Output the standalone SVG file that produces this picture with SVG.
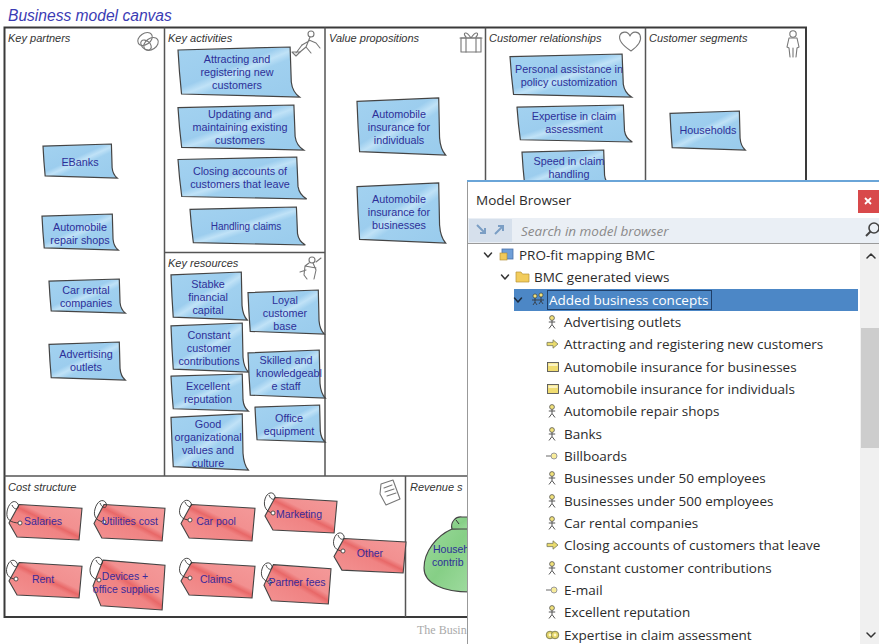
<svg xmlns="http://www.w3.org/2000/svg" xmlns:xlink="http://www.w3.org/1999/xlink" width="879" height="644" viewBox="0 0 879 644">
  <style>
    .title { font: italic 15.6px "Liberation Sans", Arial, sans-serif; fill: #3b3bb4; }
    .sec { font: italic 11px "Liberation Sans", Arial, sans-serif; fill: #333; }
    .nt { font: 10.8px "Liberation Sans", Arial, sans-serif; fill: #2d2f98; text-anchor: middle; }
    .tg { font: 10.5px "Liberation Sans", Arial, sans-serif; fill: #3a2a9a; text-anchor: middle; }
    .grid { stroke: #555; stroke-width: 1.5; fill: none; }
    .ico { stroke: #777; stroke-width: 1.1; fill: none; stroke-linecap: round; stroke-linejoin: round; }
    .note { fill: url(#noteFill); stroke: #444; stroke-width: 1.2; }
    .tag { fill: url(#tagFill); stroke: #444; stroke-width: 1.1; }
    .str { fill: none; stroke: #333; stroke-width: 0.9; }
    .mb { font: 13.5px "Open Sans", "Noto Sans", sans-serif; fill: #2b2b2b; }
    .mbsel { font: 13.5px "Open Sans", "Noto Sans", sans-serif; fill: #ffffff; }
    .chev { fill: none; stroke: #333; stroke-width: 1.5; stroke-linecap: round; stroke-linejoin: round; }
  </style>
  <defs>
    <linearGradient id="noteFill" x1="0" y1="0" x2="1" y2="1">
      <stop offset="0" stop-color="#a3d2f0"/>
      <stop offset="0.42" stop-color="#9ccdee"/>
      <stop offset="0.5" stop-color="#c0e2f7"/>
      <stop offset="0.58" stop-color="#a0d0ef"/>
      <stop offset="1" stop-color="#99cbec"/>
    </linearGradient>
    <linearGradient id="tagFill" x1="0" y1="1" x2="1" y2="0">
      <stop offset="0" stop-color="#f39393"/>
      <stop offset="0.45" stop-color="#f08383"/>
      <stop offset="0.52" stop-color="#e86868"/>
      <stop offset="0.6" stop-color="#f29090"/>
      <stop offset="1" stop-color="#f49a9a"/>
    </linearGradient>
    <linearGradient id="bagFill" x1="0" y1="0" x2="1" y2="1">
      <stop offset="0" stop-color="#9bd99b"/>
      <stop offset="0.5" stop-color="#86cf86"/>
      <stop offset="1" stop-color="#9fdb9f"/>
    </linearGradient>
    <!-- sticky note outline in a 100x50 box, curled bottom-right corner -->
    <path id="noteShape" vector-effect="non-scaling-stroke" d="M0,3 L95,0 L96,35 Q97,45 103,50 L3,47 Q1,25 0,3 Z"/>
    <!-- price tag outline in a 100x50 box, point on the left -->
    <path id="tagShape" vector-effect="non-scaling-stroke" d="M14,2 L100,7 L96,50 L11,46 L0,27 Z"/>
    <!-- tree icons -->
    <g id="icActor">
      <circle cx="0" cy="-4" r="2.4" fill="#f2e27a" stroke="#555" stroke-width="0.8"/>
      <path d="M0,-1.6 V2.5 M-3.2,0 H3.2 M0,2.5 L-3,6.5 M0,2.5 L3,6.5" fill="none" stroke="#555" stroke-width="1"/>
    </g>
    <path id="icArrow" d="M-5,-1.6 H1 V-4.2 L6,0 L1,4.2 V1.6 H-5 Z" fill="#eadb6c" stroke="#7a7a5a" stroke-width="0.8"/>
    <g id="icValue">
      <rect x="-5.5" y="-4.5" width="11" height="9" fill="#f0dc70" stroke="#555" stroke-width="0.9"/>
      <rect x="-4.5" y="-3.5" width="9" height="2.5" fill="#fbf3c2"/>
    </g>
    <g id="icChannel">
      <path d="M-6,0 H-1" stroke="#777" stroke-width="1.1"/>
      <circle cx="2" cy="0" r="3" fill="#f8ec9a" stroke="#999" stroke-width="1"/>
    </g>
    <g id="icRings">
      <circle cx="-2" cy="0" r="3.8" fill="#e3d468" stroke="#7a7a50" stroke-width="0.9"/>
      <circle cx="3" cy="0" r="3.8" fill="#e3d468" stroke="#7a7a50" stroke-width="0.9"/>
      <circle cx="-2" cy="0" r="1.4" fill="#fff8c8"/>
      <circle cx="3" cy="0" r="1.4" fill="#fff8c8"/>
    </g>
  </defs>

  <!-- heading -->
  <text class="title" x="8" y="21">Business model canvas</text>

  <!-- canvas frame and section dividers -->
  <g id="canvas-grid">
    <rect x="4.5" y="27.5" width="801.5" height="589.5" fill="#fff" stroke="#3a3a3a" stroke-width="2"/>
    <path class="grid" d="M164.5,27.5 V476 M325,27.5 V476 M485.5,27.5 V476 M645.5,27.5 V476 M164.5,252.5 H325 M4.5,476 H806 M405.5,476 V617"/>
  </g>

  <!-- section titles and icons -->
  <g id="sec-key-partners">
    <text class="sec" x="8" y="42">Key partners</text>
    <g class="ico">
      <ellipse cx="145" cy="39" rx="8" ry="5.5" transform="rotate(-35 145 39)"/>
      <ellipse cx="151" cy="44" rx="8" ry="5.5" transform="rotate(-35 151 44)"/>
      <ellipse cx="146" cy="45" rx="6" ry="4" transform="rotate(40 146 45)"/>
    </g>
  </g>
  <g id="sec-key-activities">
    <text class="sec" x="168" y="42">Key activities</text>
    <g class="ico">
      <circle cx="311" cy="34" r="3"/>
      <path d="M310,37 L306,47 L311,53 M306,47 L300,52 M309,40 L316,43 L320,48 M309,41 L302,45"/>
      <path d="M302,45 L296,53 M292,52 L296,56 L300,52 Z"/>
    </g>
  </g>
  <g id="sec-value-propositions">
    <text class="sec" x="329" y="42">Value propositions</text>
    <g class="ico">
      <rect x="461" y="38" width="20" height="14"/>
      <path d="M460,38 H482 M466,38 V52 M476,38 V52 M471,38 C466,30 462,33 466,37 M471,38 C476,30 480,33 476,37"/>
    </g>
  </g>
  <g id="sec-customer-relationships">
    <text class="sec" x="489" y="42">Customer relationships</text>
    <path class="ico" d="M631,51 C622,45 618,40 620,35 C622,31 628,31 630,36 C632,31 638,31 640,35 C642,40 638,46 631,51 Z"/>
  </g>
  <g id="sec-customer-segments">
    <text class="sec" x="649" y="42">Customer segments</text>
    <g class="ico">
      <circle cx="793" cy="34" r="3.2"/>
      <path d="M789,38 H797 L799,47 L797,48 L796,57 M789,38 L787,47 L789,48 L790,57 M793,48 V57"/>
    </g>
  </g>
  <g id="sec-key-resources">
    <text class="sec" x="168" y="267">Key resources</text>
    <g class="ico">
      <circle cx="312" cy="260" r="3"/>
      <path d="M309,263 L305,266 L304,275 L307,279 M313,263 L316,270 L314,279 M305,266 L316,268 M316,262 L321,258 M300,272 L306,270"/>
    </g>
  </g>
  <g id="sec-cost-structure">
    <text class="sec" x="8" y="491">Cost structure</text>
    <g class="ico">
      <path d="M381,484 L393,480 L400,499 L386,505 L380,494 Z"/>
      <path d="M384,488 L392,485 M385,492 L394,489 M387,496 L396,493"/>
    </g>
  </g>
  <g id="sec-revenue-streams">
    <text class="sec" x="410" y="491">Revenue s</text>
  </g>

  <!-- key partners notes -->
  <g id="kp-ebanks">
    <use href="#noteShape" class="note" transform="translate(43 144) scale(0.72 0.68)"/>
    <text class="nt" x="80" y="166">EBanks</text>
  </g>
  <g id="kp-repair-shops">
    <use href="#noteShape" class="note" transform="translate(42 214) scale(0.74 0.72)"/>
    <text class="nt" x="80" y="231">Automobile</text>
    <text class="nt" x="80" y="244">repair shops</text>
  </g>
  <g id="kp-car-rental">
    <use href="#noteShape" class="note" transform="translate(49 279) scale(0.74 0.68)"/>
    <text class="nt" x="86" y="294">Car rental</text>
    <text class="nt" x="86" y="307">companies</text>
  </g>
  <g id="kp-advertising">
    <use href="#noteShape" class="note" transform="translate(49 342) scale(0.74 0.76)"/>
    <text class="nt" x="86" y="358">Advertising</text>
    <text class="nt" x="86" y="371">outlets</text>
  </g>

  <!-- key activities notes -->
  <g id="ka-attracting">
    <use href="#noteShape" class="note" transform="translate(178 47) scale(1.18 1.0)"/>
    <text class="nt" x="237" y="63">Attracting and</text>
    <text class="nt" x="237" y="76">registering new</text>
    <text class="nt" x="237" y="89">customers</text>
  </g>
  <g id="ka-updating">
    <use href="#noteShape" class="note" transform="translate(178 105) scale(1.22 0.9)"/>
    <text class="nt" x="240" y="118">Updating and</text>
    <text class="nt" x="240" y="131">maintaining existing</text>
    <text class="nt" x="240" y="144">customers</text>
  </g>
  <g id="ka-closing">
    <use href="#noteShape" class="note" transform="translate(178 157) scale(1.25 0.84)"/>
    <text class="nt" x="240" y="175">Closing accounts of</text>
    <text class="nt" x="240" y="188">customers that leave</text>
  </g>
  <g id="ka-handling">
    <use href="#noteShape" class="note" transform="translate(190 207) scale(1.12 0.76)"/>
    <text class="nt" x="246" y="230" style="font-size:10px">Handling claims</text>
  </g>

  <!-- key resources notes -->
  <g id="kr-stabke">
    <use href="#noteShape" class="note" transform="translate(171 272) scale(0.74 0.96)"/>
    <text class="nt" x="208" y="288">Stabke</text>
    <text class="nt" x="208" y="301">financial</text>
    <text class="nt" x="208" y="314">capital</text>
  </g>
  <g id="kr-loyal">
    <use href="#noteShape" class="note" transform="translate(248 290) scale(0.74 0.88)"/>
    <text class="nt" x="285" y="304">Loyal</text>
    <text class="nt" x="285" y="317">customer</text>
    <text class="nt" x="285" y="330">base</text>
  </g>
  <g id="kr-constant">
    <use href="#noteShape" class="note" transform="translate(171 323) scale(0.75 0.98)"/>
    <text class="nt" x="209" y="339">Constant</text>
    <text class="nt" x="209" y="352">customer</text>
    <text class="nt" x="209" y="365">contributions</text>
  </g>
  <g id="kr-skilled">
    <use href="#noteShape" class="note" transform="translate(248 350) scale(0.75 0.96)"/>
    <text class="nt" x="286" y="364">Skilled and</text>
    <text class="nt" x="289" y="377">knowledgeabl</text>
    <text class="nt" x="286" y="390">e staff</text>
  </g>
  <g id="kr-excellent">
    <use href="#noteShape" class="note" transform="translate(171 374) scale(0.75 0.74)"/>
    <text class="nt" x="208" y="390">Excellent</text>
    <text class="nt" x="208" y="403">reputation</text>
  </g>
  <g id="kr-good">
    <use href="#noteShape" class="note" transform="translate(171 414) scale(0.75 1.12)"/>
    <text class="nt" x="208" y="428">Good</text>
    <text class="nt" x="208" y="441">organizational</text>
    <text class="nt" x="208" y="454">values and</text>
    <text class="nt" x="208" y="467">culture</text>
  </g>
  <g id="kr-office">
    <use href="#noteShape" class="note" transform="translate(255 405) scale(0.68 0.74)"/>
    <text class="nt" x="289" y="422">Office</text>
    <text class="nt" x="289" y="435">equipment</text>
  </g>

  <!-- value proposition notes -->
  <g id="vp-individuals">
    <use href="#noteShape" class="note" transform="translate(357 98) scale(0.86 1.14)"/>
    <text class="nt" x="399" y="118">Automobile</text>
    <text class="nt" x="399" y="131">insurance for</text>
    <text class="nt" x="399" y="144">individuals</text>
  </g>
  <g id="vp-businesses">
    <use href="#noteShape" class="note" transform="translate(357 183) scale(0.86 1.2)"/>
    <text class="nt" x="399" y="203">Automobile</text>
    <text class="nt" x="399" y="216">insurance for</text>
    <text class="nt" x="399" y="229">businesses</text>
  </g>

  <!-- customer relationship notes -->
  <g id="cr-personal">
    <use href="#noteShape" class="note" transform="translate(510 54) scale(1.18 0.86)"/>
    <text class="nt" x="569" y="73">Personal assistance in</text>
    <text class="nt" x="569" y="86">policy customization</text>
  </g>
  <g id="cr-expertise">
    <use href="#noteShape" class="note" transform="translate(517 105) scale(1.12 0.74)"/>
    <text class="nt" x="574" y="120">Expertise in claim</text>
    <text class="nt" x="574" y="133">assessment</text>
  </g>
  <g id="cr-speed">
    <use href="#noteShape" class="note" transform="translate(522 150) scale(0.86 0.72)"/>
    <text class="nt" x="569" y="165">Speed in claim</text>
    <text class="nt" x="569" y="178">handling</text>
  </g>

  <!-- customer segment note -->
  <g id="cs-households">
    <use href="#noteShape" class="note" transform="translate(670 111) scale(0.73 0.78)"/>
    <text class="nt" x="708" y="134">Households</text>
  </g>

  <!-- cost structure tags -->
  <g id="cost-salaries">
    <use href="#tagShape" class="tag" transform="translate(9 503) scale(0.73 0.74)"/>
    <path class="str" d="M20,523 C10,523 6,519 7,512 C8,504 14,498 18,504 C20,508 15,512 12,505"/>
    <circle cx="20" cy="523" r="2" fill="#fff" stroke="#333" stroke-width="0.8"/>
    <text class="tg" x="43" y="525">Salaries</text>
  </g>
  <g id="cost-utilities">
    <use href="#tagShape" class="tag" transform="translate(94 503) scale(0.71 0.76)"/>
    <path class="str" d="M104,522 C96,521 93,516 95,509 C97,501 103,498 106,503 C108,508 103,510 100,503"/>
    <circle cx="104" cy="522" r="2" fill="#fff" stroke="#333" stroke-width="0.8"/>
    <text class="tg" x="130" y="525">Utilities cost</text>
  </g>
  <g id="cost-car-pool">
    <use href="#tagShape" class="tag" transform="translate(181 503) scale(0.74 0.76)"/>
    <path class="str" d="M190,520 C182,520 178,515 180,508 C182,500 188,498 191,503 C193,507 188,509 185,502"/>
    <circle cx="190" cy="520" r="2" fill="#fff" stroke="#333" stroke-width="0.8"/>
    <text class="tg" x="216" y="525">Car pool</text>
  </g>
  <g id="cost-marketing">
    <use href="#tagShape" class="tag" transform="translate(265 496) scale(0.72 0.74)"/>
    <path class="str" d="M273,513 C266,512 263,506 265,499 C267,492 273,491 275,496 C276,500 271,501 269,495"/>
    <circle cx="273" cy="513" r="2" fill="#fff" stroke="#333" stroke-width="0.8"/>
    <text class="tg" x="299" y="518">Marketing</text>
  </g>
  <g id="cost-other">
    <use href="#tagShape" class="tag" transform="translate(334 537) scale(0.72 0.72)"/>
    <path class="str" d="M343,551 C336,551 332,546 334,539 C336,532 342,531 344,536 C345,540 340,541 338,535"/>
    <circle cx="343" cy="551" r="2" fill="#fff" stroke="#333" stroke-width="0.8"/>
    <text class="tg" x="370" y="557">Other</text>
  </g>
  <g id="cost-rent">
    <use href="#tagShape" class="tag" transform="translate(9 561) scale(0.73 0.74)"/>
    <path class="str" d="M16,579 C9,579 5,574 7,567 C9,560 14,558 17,563 C19,567 14,569 11,562"/>
    <circle cx="16" cy="579" r="2" fill="#fff" stroke="#333" stroke-width="0.8"/>
    <text class="tg" x="43" y="583">Rent</text>
  </g>
  <g id="cost-devices">
    <use href="#tagShape" class="tag" transform="translate(93 558) scale(0.72 1.04)"/>
    <path class="str" d="M99,580 C92,579 88,573 91,565 C93,557 99,555 102,560 C104,565 99,567 96,560"/>
    <circle cx="99" cy="580" r="2" fill="#fff" stroke="#333" stroke-width="0.8"/>
    <text class="tg" x="125" y="580">Devices +</text>
    <text class="tg" x="126" y="593">office supplies</text>
  </g>
  <g id="cost-claims">
    <use href="#tagShape" class="tag" transform="translate(181 561) scale(0.74 0.74)"/>
    <path class="str" d="M190,578 C182,578 178,573 180,566 C182,558 188,556 191,561 C193,565 188,567 185,560"/>
    <circle cx="190" cy="578" r="2" fill="#fff" stroke="#333" stroke-width="0.8"/>
    <text class="tg" x="216" y="583">Claims</text>
  </g>
  <g id="cost-partner-fees">
    <use href="#tagShape" class="tag" transform="translate(264 563) scale(0.67 0.82)"/>
    <path class="str" d="M270,582 C263,581 260,576 262,569 C264,562 270,561 272,566 C273,570 268,571 266,565"/>
    <circle cx="270" cy="582" r="2" fill="#fff" stroke="#333" stroke-width="0.8"/>
    <text class="tg" x="297" y="586">Partner fees</text>
  </g>

  <!-- revenue stream bag -->
  <g id="rev-households">
    <path d="M452,529 C436,536 424,552 424,568 C424,584 444,592 470,592 L470,528 Z" fill="url(#bagFill)" stroke="#444" stroke-width="1.1"/>
    <path d="M452,529 C450,522 456,516 462,517 L470,517 L470,529 Z" fill="url(#bagFill)" stroke="#444" stroke-width="1.1"/>
    <path d="M456,520 L459,524" stroke="#333" stroke-width="1"/>
    <text class="nt" x="433" y="553" style="text-anchor:start;font-size:10.5px">Househ</text>
    <text class="nt" x="432" y="566" style="text-anchor:start;font-size:10.5px">contrib</text>
  </g>
  <text x="417" y="634" font-family="Liberation Serif, serif" font-size="12" fill="#aaa">The Busin</text>

  <!-- model browser panel -->
  <g id="model-browser">
    <rect x="467" y="181" width="412" height="463" fill="#fff"/>
    <path d="M467,181 H879" stroke="#6aa5d8" stroke-width="2"/>
    <path d="M467.5,182 V644" stroke="#999" stroke-width="1"/>
    <text class="mb" x="476" y="205">Model Browser</text>
    <rect x="858" y="190" width="21" height="23" fill="#d8494b"/>
    <path d="M865,198 L871,204 M871,198 L865,204" stroke="#fff" stroke-width="1.8"/>

    <!-- search bar -->
    <rect x="468" y="218" width="411" height="25" fill="#eaeff5"/>
    <rect x="469" y="219" width="43" height="23" fill="#d6e0ec"/>
    <path d="M477,225 L485,233 M485,228 V233 H480" fill="none" stroke="#7b9ec4" stroke-width="2"/>
    <path d="M495,234 L503,226 M498,226 H503 V231" fill="none" stroke="#7b9ec4" stroke-width="2"/>
    <text x="521" y="236" font-family="Open Sans, Noto Sans, sans-serif" font-style="italic" font-size="13.5" fill="#8a8a8a">Search in model browser</text>
    <circle cx="874" cy="228" r="5" fill="none" stroke="#444" stroke-width="1.6"/>
    <path d="M870.5,231.5 L866,236" stroke="#444" stroke-width="2"/>
    <path d="M468,243.5 H879" stroke="#9a9a9a" stroke-width="1"/>

    <!-- scrollbar -->
    <rect x="860" y="244" width="19" height="400" fill="#f0f0f0"/>
    <rect x="861" y="328" width="18" height="120" fill="#cdcdcd"/>
    <path class="chev" d="M867,258 L871,254 L875,258"/>
    <path class="chev" d="M867,633 L871,637 L875,633"/>

    <!-- tree: root rows -->
    <path class="chev" d="M484.5,253 L488,257 L491.5,253"/>
    <rect x="502" y="249" width="11" height="10" fill="#6f9fd8" stroke="#4a70a8" stroke-width="0.8"/>
    <rect x="500" y="253" width="7" height="7" fill="#f0c95a" stroke="#b08a30" stroke-width="0.6"/>
    <text class="mb" x="519" y="260">PRO-fit mapping BMC</text>

    <path class="chev" d="M501.5,275 L505,279 L508.5,275"/>
    <path d="M516,272 H521 L522.5,274 H529 V282 H516 Z" fill="#f2cc5c" stroke="#b89438" stroke-width="0.7"/>
    <text class="mb" x="534" y="282">BMC generated views</text>

    <rect x="514" y="289" width="344" height="22" fill="#4c87c6"/>
    <path class="chev" d="M514.5,298 L518,302 L521.5,298" style="stroke:#1d2b3d"/>
    <g transform="translate(538 300)">
      <circle cx="-3" cy="-4" r="2" fill="#f2e27a" stroke="#333" stroke-width="0.6"/>
      <circle cx="3" cy="-5" r="2" fill="#f2e27a" stroke="#333" stroke-width="0.6"/>
      <path d="M-3,-2 V2 L-5,5 M-3,2 L-1,5 M3,-3 V1 L1,4 M3,1 L5,4 M-6,0 H6" fill="none" stroke="#333" stroke-width="0.8"/>
    </g>
    <rect x="547.5" y="290.5" width="164" height="19" fill="none" stroke="#1f3f68" stroke-width="1"/>
    <text class="mbsel" x="549" y="305">Added business concepts</text>

    <!-- tree: concept rows -->
    <use href="#icActor" x="552" y="322"/>
    <text class="mb" x="564" y="327">Advertising outlets</text>
    <use href="#icArrow" x="552" y="344"/>
    <text class="mb" x="564" y="349">Attracting and registering new customers</text>
    <use href="#icValue" x="553" y="367"/>
    <text class="mb" x="564" y="372">Automobile insurance for businesses</text>
    <use href="#icValue" x="553" y="389"/>
    <text class="mb" x="564" y="394">Automobile insurance for individuals</text>
    <use href="#icActor" x="552" y="411"/>
    <text class="mb" x="564" y="416">Automobile repair shops</text>
    <use href="#icActor" x="552" y="434"/>
    <text class="mb" x="564" y="439">Banks</text>
    <use href="#icChannel" x="552" y="456"/>
    <text class="mb" x="564" y="461">Billboards</text>
    <use href="#icActor" x="552" y="478"/>
    <text class="mb" x="564" y="483">Businesses under 50 employees</text>
    <use href="#icActor" x="552" y="501"/>
    <text class="mb" x="564" y="506">Businesses under 500 employees</text>
    <use href="#icActor" x="552" y="523"/>
    <text class="mb" x="564" y="528">Car rental companies</text>
    <use href="#icArrow" x="552" y="545"/>
    <text class="mb" x="564" y="550">Closing accounts of customers that leave</text>
    <use href="#icActor" x="552" y="568"/>
    <text class="mb" x="564" y="573">Constant customer contributions</text>
    <use href="#icChannel" x="552" y="590"/>
    <text class="mb" x="564" y="595">E-mail</text>
    <use href="#icActor" x="552" y="612"/>
    <text class="mb" x="564" y="617">Excellent reputation</text>
    <use href="#icRings" x="552" y="635"/>
    <text class="mb" x="564" y="640">Expertise in claim assessment</text>
  </g>
</svg>
